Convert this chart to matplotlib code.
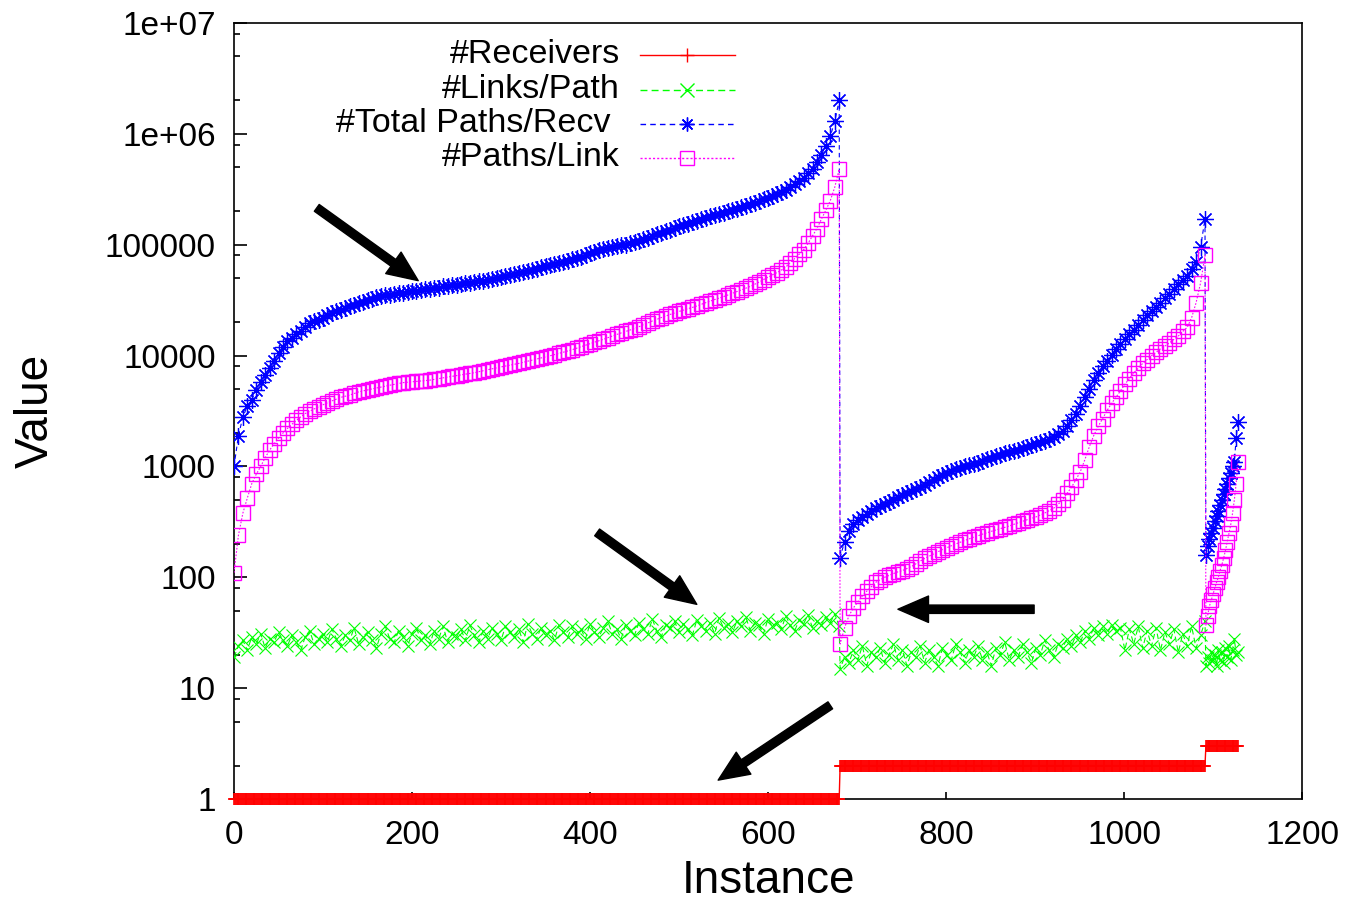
import numpy as np
import matplotlib
matplotlib.use("Agg")
import matplotlib.pyplot as plt
from matplotlib.ticker import FixedLocator, NullFormatter

plt.rcParams['font.family'] = ['Liberation Sans', 'DejaVu Sans']

# instance ranges of the three segments (start, stop, step)
seg1 = (0, 681, 5)
seg2 = (681, 1092, 5)
seg3 = (1092, 1129, 2)

# receivers per segment and number of instances in each
receivers = [1, 2, 3]
receiver_counts = [681, 411, 37]

# #Links/Path
links1 = [19, 24, 27, 22, 29, 25, 31, 23, 28, 26,
          32, 27, 24, 30, 26, 22, 29, 33, 25, 28,
          31, 26, 34, 28, 24, 30, 27, 35, 25, 29,
          32, 27, 23, 31, 36, 28, 26, 33, 29, 24,
          31, 35, 27, 30, 25, 33, 28, 36, 26, 31,
          29, 34, 27, 37, 30, 26, 33, 28, 35, 31,
          27, 36, 32, 29, 34, 26, 38, 31, 28, 35,
          30, 33, 27, 37, 32, 29, 36, 31, 34, 28,
          38, 32, 29, 35, 40, 31, 34, 28, 37, 33,
          30, 39, 34, 31, 42, 33, 29, 37, 35, 40,
          32, 38, 34, 30, 41, 36, 33, 39, 31, 43,
          35, 38, 32, 40, 36, 44, 33, 39, 37, 31,
          42, 36, 39, 34, 45, 37, 33, 41, 38, 46,
          35, 40, 37, 44, 39, 47, 36]
links2 = [15, 19, 17, 22, 18, 24, 16, 21, 19, 23,
          17, 20, 25, 18, 22, 16, 21, 19, 24, 17,
          22, 19, 16, 23, 20, 18, 25, 21, 17, 22,
          19, 24, 18, 21, 16, 23, 20, 26, 18, 22,
          19, 25, 21, 17, 23, 20, 27, 22, 19, 25,
          23, 28, 24, 30, 26, 33, 28, 35, 30, 36,
          31, 37, 33, 35, 22, 34, 25, 36, 23, 33,
          24, 35, 22, 32, 25, 34, 21, 31, 24, 36,
          23, 30, 40]
links3 = [16, 19, 17, 21, 18, 20, 16, 22, 18, 21, 17, 23, 19, 24, 18, 22, 28, 20, 21]

# #Total Paths/Recv
total1 = [1000, 1900, 2800, 3500, 4000, 4900, 5800, 6700, 7800, 9000,
          10500, 12000, 13500, 14500, 15500, 16800, 18000, 19500, 20500, 21000,
          22000, 23000, 24000, 25000, 26000, 27000, 28000, 28500, 29500, 30500,
          31500, 32500, 33500, 34500, 35000, 35500, 36000, 36500, 37000, 37500,
          38000, 38500, 39000, 39500, 40000, 40500, 41000, 42000, 42500, 43000,
          43500, 44000, 45000, 45500, 46000, 47000, 47500, 48000, 49000, 50000,
          51000, 52000, 53000, 54000, 55000, 56500, 58000, 59500, 61000, 62500,
          64000, 65500, 67000, 68500, 70000, 72000, 74000, 76000, 78000, 81000,
          84000, 86500, 89000, 91000, 93000, 95000, 97000, 98500, 100000, 103000,
          106000, 109000, 112000, 116000, 120000, 124000, 128000, 132000, 137000, 141000,
          146000, 150000, 155000, 160000, 165000, 170000, 175000, 180000, 185000, 190000,
          195000, 200000, 205000, 212000, 218000, 225000, 232000, 240000, 248000, 256000,
          265000, 275000, 285000, 297000, 310000, 330000, 350000, 375000, 400000, 440000,
          480000, 560000, 650000, 780000, 950000, 1300000, 2000000]
total2 = [150, 210, 260, 300, 330, 350, 370, 395, 420, 440,
          460, 480, 500, 525, 550, 575, 600, 625, 650, 685,
          720, 760, 800, 840, 880, 915, 950, 975, 1000, 1025,
          1050, 1085, 1120, 1160, 1200, 1240, 1280, 1315, 1350, 1385,
          1420, 1460, 1500, 1550, 1600, 1650, 1700, 1770, 1850, 1950,
          2100, 2300, 2600, 3000, 3500, 4200, 5000, 6000, 7000, 8000,
          9000, 10200, 11500, 12700, 14000, 15500, 17000, 19000, 21000, 23000,
          25000, 27500, 30000, 33000, 36000, 40000, 44000, 48000, 52000, 60000,
          70000, 95000, 170000]
total3 = [160, 190, 220, 250, 280, 320, 360, 400, 450, 500,
          560, 620, 700, 780, 880, 1000, 1100, 1800, 2500]

# #Paths/Link
plink1 = [110, 240, 380, 520, 700, 850, 1000, 1200, 1400, 1600,
          1800, 2000, 2200, 2400, 2600, 2800, 3000, 3150, 3300, 3450,
          3600, 3750, 3900, 4050, 4200, 4300, 4400, 4550, 4700, 4800,
          4900, 5000, 5100, 5200, 5300, 5400, 5500, 5600, 5700, 5750,
          5800, 5850, 5900, 5950, 6000, 6100, 6200, 6300, 6400, 6500,
          6600, 6700, 6800, 6900, 7000, 7150, 7300, 7450, 7600, 7750,
          7900, 8050, 8200, 8350, 8500, 8700, 8900, 9100, 9300, 9500,
          9700, 9950, 10200, 10450, 10700, 11000, 11300, 11650, 12000, 12400,
          12800, 13200, 13600, 14000, 14500, 15000, 15500, 16000, 16500, 17000,
          17500, 18200, 19000, 19700, 20500, 21200, 22000, 22700, 23500, 24200,
          25000, 25700, 26500, 27200, 28000, 29000, 30000, 31000, 32000, 33000,
          34000, 35200, 36500, 37700, 39000, 40500, 42000, 44000, 46000, 48500,
          51000, 53500, 56000, 59000, 63000, 69000, 75000, 82000, 90000, 103000,
          120000, 140000, 170000, 205000, 250000, 330000, 480000]
plink2 = [25, 35, 45, 53, 60, 68, 75, 82, 90, 95,
          100, 104, 108, 112, 115, 120, 125, 132, 140, 148,
          155, 162, 170, 178, 185, 192, 200, 207, 215, 222,
          230, 237, 245, 252, 260, 267, 275, 282, 290, 300,
          310, 320, 330, 340, 350, 365, 380, 400, 420, 455,
          500, 570, 650, 760, 900, 1150, 1500, 1900, 2300, 2700,
          3200, 3700, 4200, 4800, 5500, 6200, 7000, 7700, 8500, 9200,
          10000, 10700, 11500, 12200, 13000, 14000, 15000, 16500, 18000, 22000,
          30000, 45000, 80000]
plink3 = [37, 45, 55, 62, 70, 80, 90, 100, 115, 130,
          150, 175, 210, 250, 300, 380, 500, 700, 1100]

xs = np.concatenate([np.arange(*seg1), np.arange(*seg2), np.arange(*seg3)])
links = np.concatenate([links1, links2, links3])
total = np.concatenate([total1, total2, total3])
plink = np.concatenate([plink1, plink2, plink3])
x_recv = np.arange(sum(receiver_counts))
recv = np.repeat(receivers, receiver_counts)

fig = plt.figure(figsize=(13.5, 9.05), dpi=100)
ax = fig.add_axes([234 / 1350, 1 - 799 / 905, 1068 / 1350, 776 / 905])

red, green, blue, magenta = '#ff0000', '#00ff00', '#0000ff', '#ff00ff'
asterisk = (8, 2, 0)

ax.plot(x_recv, recv, color=red, lw=1, marker='+', ms=9, mew=1.2, clip_on=False, zorder=3)
ax.plot(xs, links, color=green, lw=0.8, ls=(0, (5, 3)), marker='x', ms=8.5, mew=0.8, zorder=4)
ax.plot(xs, total, color=blue, lw=0.8, ls=(0, (4, 3)), marker=asterisk, ms=12, mew=0.9, zorder=5)
ax.plot(xs, plink, color=magenta, lw=0.8, ls=(0, (1.5, 1.5)), marker='s', ms=10, mew=1,
        mfc='none', zorder=6)

ax.set_yscale('log')
ax.set_xlim(0, 1200)
ax.set_ylim(1, 1e7)
yt = [1, 10, 100, 1000, 10000, 100000, 1e6, 1e7]
ax.set_yticks(yt, ['1', '10', '100', '1000', '10000', '100000', '1e+06', '1e+07'])
ax.yaxis.set_minor_locator(FixedLocator([d * m for d in yt[:-1] for m in (2, 5, 8)]))
ax.yaxis.set_minor_formatter(NullFormatter())
ax.set_xticks([0, 200, 400, 600, 800, 1000, 1200])

ax.tick_params(axis='y', which='major', direction='in', length=9, width=1.2,
               labelsize=24, pad=13, right=False)
ax.tick_params(axis='y', which='minor', direction='in', length=4.5, width=1.2, right=False)
ax.tick_params(axis='x', which='both', direction='in', length=5, width=1.2,
               labelsize=24, pad=15, top=False)
for s in ax.spines.values():
    s.set_linewidth(1.2)

ax.set_xlabel('Instance', fontsize=33, labelpad=6)
ax.set_ylabel('Value', fontsize=33, labelpad=34)

# legend drawn by hand: labels right-aligned, samples to the right
entries = [('#Receivers', red, '-', '+'),
           ('#Links/Path', green, (0, (5, 3)), 'x'),
           ('#Total Paths/Recv ', blue, (0, (4, 3)), asterisk),
           ('#Paths/Link', magenta, (0, (1.5, 1.5)), 's')]
rows = [0.9588, 0.9137, 0.8699, 0.8261]
for (lab, col, ls, mk), yy in zip(entries, rows):
    ax.text(0.3614, yy, lab, transform=ax.transAxes, ha='right', va='center', fontsize=24.5)
    ax.plot([0.380, 0.424, 0.469], [yy, yy, yy], transform=ax.transAxes, color=col, lw=1,
            ls=ls, marker=mk, markevery=[1], ms=10, mew=1, mfc='none', clip_on=False)

# arrows
arrows = [((93, 215000), (207, 47400)),
          ((408, 254), (520, 57)),
          ((899, 51.5), (746, 51.5)),
          ((670, 7.0), (544, 1.48))]
for tail, head in arrows:
    ax.annotate('', xy=head, xytext=tail,
                arrowprops=dict(facecolor='black', edgecolor='black', width=6,
                                headwidth=19, headlength=22, shrink=0), zorder=7)

fig.savefig('out.png', dpi=100)
